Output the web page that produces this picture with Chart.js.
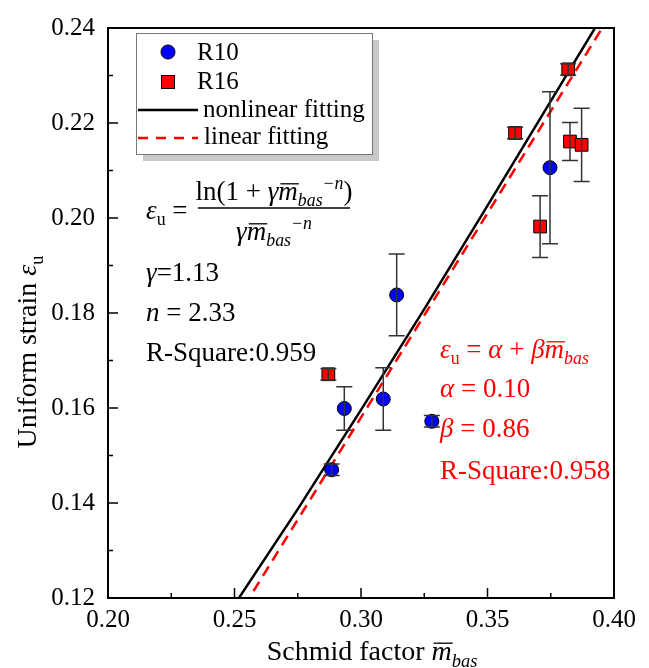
<!DOCTYPE html>
<html>
<head>
<meta charset="utf-8">
<script src="https://cdn.jsdelivr.net/npm/chart.js@4/dist/chart.umd.min.js"></script>
<style>
  html, body { margin: 0; padding: 0; background: #fff; }
</style>
</head>
<body>
<canvas id="strainChart" width="649" height="668"></canvas>
<script>
// values
const r10X = [0.2884, 0.2934, 0.3088, 0.3141, 0.3280, 0.3747];
const r10Y = [0.1470, 0.1599, 0.1619, 0.1838, 0.1572, 0.2106];
const r10Err = [0.0012, 0.0046, 0.0066, 0.0086, 0.0012, 0.0160];

const r16X = [0.2871, 0.3609, 0.3708, 0.3819, 0.3826, 0.3872];
const r16Y = [0.1671, 0.2179, 0.1982, 0.2313, 0.2161, 0.2154];
const r16Err = [0.0012, 0.0012, 0.0065, 0.0012, 0.0040, 0.0077];

const nonlinX = [0.25, 0.275, 0.30, 0.325, 0.35, 0.375, 0.40];
const nonlinY = [0.1186, 0.1387, 0.1596, 0.1808, 0.2026, 0.2246, 0.2466];

const linX = [0.25, 0.40];
const linY = [0.115, 0.244];

const xMajorTicks = [0.20, 0.25, 0.30, 0.35, 0.40];
const xMinorTicks = [0.225, 0.275, 0.325, 0.375];
const yMajorTicks = [0.12, 0.14, 0.16, 0.18, 0.20, 0.22, 0.24];
const yMinorTicks = [0.13, 0.15, 0.17, 0.19, 0.21, 0.23];

const FAM = "'Liberation Serif', 'DejaVu Serif', serif";

function pts(xs, ys) {
    return xs.map((x, i) => ({ x: x, y: ys[i] }));
}

// draws a run of text pieces (italic / sub / sup / overbar)
function drawRich(ctx, x, y, runs, size, color, measureOnly) {
    let cx = x;
    ctx.save();
    ctx.fillStyle = color;
    ctx.strokeStyle = color;
    ctx.textAlign = 'left';
    ctx.textBaseline = 'alphabetic';
    for (const r of runs) {
        const s = (r.sub || r.sup) ? size * 0.66 : size;
        ctx.font = (r.i ? 'italic ' : '') + s + 'px ' + FAM;
        const dy = r.sub ? size * 0.24 : (r.sup ? -size * 0.42 : 0);
        const w = ctx.measureText(r.t).width;
        if (!measureOnly) {
            ctx.fillText(r.t, cx, y + dy);
            if (r.bar) {
                ctx.lineWidth = 1.3;
                ctx.beginPath();
                ctx.moveTo(cx + 2, y - size * 0.6);
                ctx.lineTo(cx + w + 1, y - size * 0.6);
                ctx.stroke();
            }
        }
        cx += w;
    }
    ctx.restore();
    return cx - x;
}

const mBas = [{ t: 'm', i: 1, bar: 1 }, { t: 'bas', i: 1, sub: 1 }];

const errorBars = {
    id: 'errorBars',
    afterDatasetsDraw(chart) {
        const ctx = chart.ctx;
        const xs = chart.scales.x, ys = chart.scales.y;
        const sets = [[r10X, r10Y, r10Err], [r16X, r16Y, r16Err]];
        ctx.save();
        ctx.strokeStyle = '#333';
        ctx.lineWidth = 1.5;
        sets.forEach(([X, Y, E]) => {
            X.forEach((x, i) => {
                const px = xs.getPixelForValue(x);
                const top = ys.getPixelForValue(Y[i] + E[i]);
                const bot = ys.getPixelForValue(Y[i] - E[i]);
                ctx.beginPath();
                ctx.moveTo(px, top); ctx.lineTo(px, bot);
                ctx.moveTo(px - 8, top); ctx.lineTo(px + 8, top);
                ctx.moveTo(px - 8, bot); ctx.lineTo(px + 8, bot);
                ctx.stroke();
            });
        });
        ctx.restore();
    }
};

const frameAndText = {
    id: 'frameAndText',
    afterDraw(chart) {
        const ctx = chart.ctx;
        const a = chart.chartArea;
        const xs = chart.scales.x, ys = chart.scales.y;

        // frame
        ctx.save();
        ctx.strokeStyle = '#000';
        ctx.lineWidth = 2;
        ctx.strokeRect(a.left, a.top, a.right - a.left, a.bottom - a.top);

        // inward ticks
        ctx.lineWidth = 1.5;
        ctx.beginPath();
        xMajorTicks.forEach(v => { const p = xs.getPixelForValue(v); ctx.moveTo(p, a.bottom); ctx.lineTo(p, a.bottom - 10); });
        xMinorTicks.forEach(v => { const p = xs.getPixelForValue(v); ctx.moveTo(p, a.bottom); ctx.lineTo(p, a.bottom - 5); });
        yMajorTicks.forEach(v => { const p = ys.getPixelForValue(v); ctx.moveTo(a.left, p); ctx.lineTo(a.left + 10, p); });
        yMinorTicks.forEach(v => { const p = ys.getPixelForValue(v); ctx.moveTo(a.left, p); ctx.lineTo(a.left + 5, p); });
        ctx.stroke();
        ctx.restore();

        // legend box with shadow
        const lx = 136, ly = 33, lw = 236, lh = 121;
        ctx.save();
        ctx.fillStyle = '#c8c8c8';
        ctx.fillRect(lx + 7, ly + 7, lw, lh);
        ctx.fillStyle = '#fff';
        ctx.fillRect(lx, ly, lw, lh);
        ctx.strokeStyle = '#777';
        ctx.lineWidth = 1;
        ctx.strokeRect(lx + 0.5, ly + 0.5, lw, lh);

        const ds = chart.data.datasets;
        ctx.font = '25px ' + FAM;
        ctx.fillStyle = '#000';
        ctx.textBaseline = 'middle';
        // R10
        ctx.beginPath();
        ctx.arc(168, 52, 7, 0, Math.PI * 2);
        ctx.fillStyle = ds[2].backgroundColor; ctx.fill();
        ctx.strokeStyle = '#000'; ctx.lineWidth = 1; ctx.stroke();
        ctx.fillStyle = '#000';
        ctx.fillText(ds[2].label, 197, 53);
        // R16
        ctx.fillStyle = ds[3].backgroundColor;
        ctx.fillRect(161.5, 75.5, 13, 13);
        ctx.strokeRect(161.5, 75.5, 13, 13);
        ctx.fillStyle = '#000';
        ctx.fillText(ds[3].label, 197, 82);
        // nonlinear
        ctx.strokeStyle = ds[0].borderColor; ctx.lineWidth = 2.5;
        ctx.beginPath(); ctx.moveTo(138, 110); ctx.lineTo(198, 110); ctx.stroke();
        ctx.fillText(ds[0].label, 203, 110);
        // linear
        ctx.strokeStyle = ds[1].borderColor; ctx.setLineDash([10, 8]);
        ctx.beginPath(); ctx.moveTo(138, 138); ctx.lineTo(198, 138); ctx.stroke();
        ctx.setLineDash([]);
        ctx.fillText(ds[1].label, 204, 137);
        ctx.restore();

        // nonlinear fit formula
        const S = 27;
        drawRich(ctx, 146, 219, [{ t: 'ε', i: 1 }, { t: 'u', sub: 1 }, { t: ' =' }], S, '#000');
        const num = [{ t: 'ln(1 + ' }, { t: 'γ', i: 1 }].concat(mBas, [{ t: '−n', i: 1, sup: 1 }, { t: ')' }]);
        const den = [{ t: 'γ', i: 1 }].concat(mBas, [{ t: '−n', i: 1, sup: 1 }]);
        const cxF = 274;
        const wn = drawRich(ctx, 0, 0, num, S, '#000', true);
        const wd = drawRich(ctx, 0, 0, den, S, '#000', true);
        drawRich(ctx, cxF - wn / 2, 200, num, S, '#000');
        drawRich(ctx, cxF - wd / 2, 240, den, S, '#000');
        ctx.save();
        ctx.strokeStyle = '#000'; ctx.lineWidth = 1.5;
        ctx.beginPath(); ctx.moveTo(198, 208); ctx.lineTo(350, 208); ctx.stroke();
        ctx.restore();
        drawRich(ctx, 146, 281, [{ t: 'γ', i: 1 }, { t: '=1.13' }], S, '#000');
        drawRich(ctx, 146, 321, [{ t: 'n', i: 1 }, { t: ' = 2.33' }], S, '#000');
        drawRich(ctx, 146, 361, [{ t: 'R-Square:0.959' }], S, '#000');

        // linear fit formula
        const red = '#ff0000';
        drawRich(ctx, 440, 358, [{ t: 'ε', i: 1 }, { t: 'u', sub: 1 }, { t: ' = ' }, { t: 'α', i: 1 }, { t: ' + ' }, { t: 'β', i: 1 }].concat(mBas), S, red);
        drawRich(ctx, 440, 397, [{ t: 'α', i: 1 }, { t: ' = 0.10' }], S, red);
        drawRich(ctx, 440, 437, [{ t: 'β', i: 1 }, { t: ' = 0.86' }], S, red);
        drawRich(ctx, 440, 479, [{ t: 'R-Square:0.958' }], S, red);

        // axis titles
        const T = 28;
        const xt = [{ t: 'Schmid factor ' }].concat(mBas);
        const wx = drawRich(ctx, 0, 0, xt, T, '#000', true);
        drawRich(ctx, 372 - wx / 2, 660, xt, T, '#000');

        const yt = [{ t: 'Uniform strain ' }, { t: 'ε', i: 1 }, { t: 'u', sub: 1 }];
        const wy = drawRich(ctx, 0, 0, yt, T, '#000', true);
        ctx.save();
        ctx.translate(27, 352);
        ctx.rotate(-Math.PI / 2);
        drawRich(ctx, -wy / 2, 9, yt, T, '#000');
        ctx.restore();
    }
};

new Chart(document.getElementById('strainChart').getContext('2d'), {
    type: 'scatter',
    data: {
        datasets: [
            {
                type: 'line',
                label: 'nonlinear fitting',
                data: pts(nonlinX, nonlinY),
                borderColor: '#000000',
                borderWidth: 2.5,
                pointRadius: 0,
                fill: false,
                tension: 0,
                order: 3
            },
            {
                type: 'line',
                label: 'linear fitting',
                data: pts(linX, linY),
                borderColor: '#ff0000',
                borderWidth: 2.5,
                borderDash: [11, 7],
                pointRadius: 0,
                fill: false,
                order: 2
            },
            {
                label: 'R10',
                data: pts(r10X, r10Y),
                backgroundColor: '#0000ff',
                borderColor: '#000',
                borderWidth: 1,
                pointStyle: 'circle',
                pointRadius: 7,
                order: 1
            },
            {
                label: 'R16',
                data: pts(r16X, r16Y),
                backgroundColor: '#ff0000',
                borderColor: '#000',
                borderWidth: 1,
                pointStyle: 'rect',
                pointRadius: 9,
                order: 0
            }
        ]
    },
    options: {
        responsive: false,
        animation: false,
        devicePixelRatio: 1,
        layout: { padding: { left: 0, right: 35, top: 22, bottom: 0 } },
        plugins: {
            legend: { display: false },
            tooltip: { enabled: false }
        },
        scales: {
            x: {
                type: 'linear',
                min: 0.2,
                max: 0.4,
                grid: { display: false, drawTicks: false },
                border: { display: false },
                afterBuildTicks: s => { s.ticks = xMajorTicks.map(v => ({ value: v })); },
                afterFit: s => { s.height = 70; },
                ticks: {
                    autoSkip: false,
                    maxRotation: 0,
                    padding: 7,
                    color: '#000',
                    font: { family: FAM, size: 25 },
                    callback: v => Number(v).toFixed(2)
                }
            },
            y: {
                type: 'linear',
                min: 0.12,
                max: 0.24,
                grid: { display: false, drawTicks: false },
                border: { display: false },
                afterBuildTicks: s => { s.ticks = yMajorTicks.map(v => ({ value: v })); },
                afterFit: s => { s.width = 108; },
                ticks: {
                    autoSkip: false,
                    padding: 13,
                    color: '#000',
                    font: { family: FAM, size: 25 },
                    callback: v => Number(v).toFixed(2)
                }
            }
        }
    },
    plugins: [errorBars, frameAndText]
});
</script>
</body>
</html>
